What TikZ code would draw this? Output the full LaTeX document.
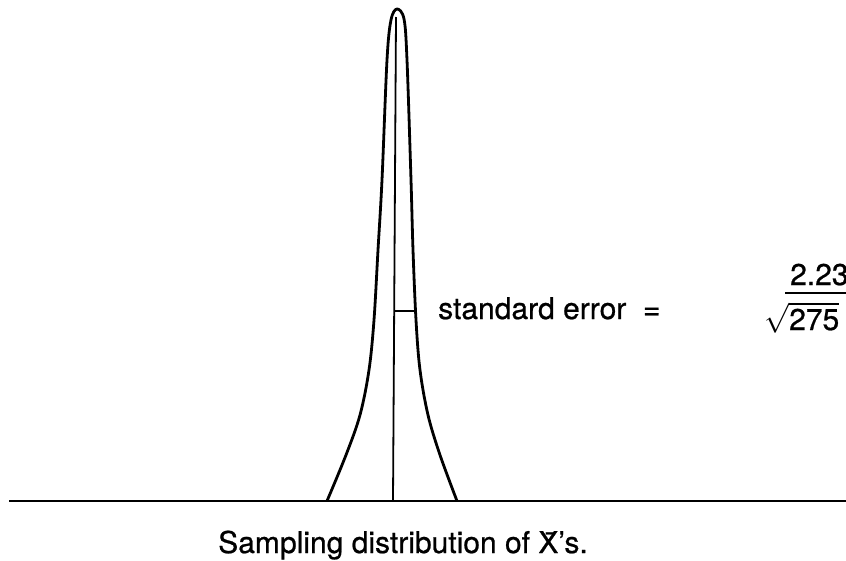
\RequirePackage{fix-cm}
\documentclass[tikz,border=0pt]{standalone}
\usepackage{amsmath}
\usepackage{fontspec}
\setmainfont{TeX Gyre Heros}[FakeBold=0.7]
\usetikzlibrary{positioning,calc}
\tikzset{
  diagram curve/.style={line width=2.8pt,draw=black,line join=round},
  diagram axis/.style={line width=2.6pt,draw=black},
  diagram mean/.style={line width=1.8pt,draw=black},
  diagram tick/.style={line width=1.6pt,draw=black},
  diagram label/.style={inner sep=0pt,font=\fontsize{30}{36}\selectfont,text=black}
}

\begin{document}
\begin{tikzpicture}[x=1pt,y=-1pt]
  \useasboundingbox (0,0) rectangle (846,560);
  % base line and mean
  \coordinate (axisL) at (9,501);
  \coordinate (axisR) at (846,501);
  \coordinate (mean) at (393,501);
  \coordinate (meantop) at (396,17);
  \draw[diagram axis] (axisL) -- (axisR);
  \draw[diagram mean] (mean) -- (meantop);
  % sampling distribution
  \draw[diagram curve] plot[smooth,tension=.55] coordinates {
    (327,501) (346,455) (360,415) (369,370) (374,320) (378,250) (382,180)
    (387,60) (391,20) (397,9) (404,19) (407,60) (411,180) (413,250)
    (416,320) (420,370) (428,415) (440,455) (457,501)};
  % standard error mark
  \coordinate (seL) at (395,311);
  \coordinate (seR) at (414,311);
  \draw[diagram tick] (seL) -- (seR);
  \node[diagram label,anchor=base west] (se) at (438,319) {standard error \ =};
  % the fraction, cut at the right edge
  \node[diagram label,anchor=base west] (num) at (790,285) {2.23};
  \node[diagram label,anchor=base west] (den) at (764,330) {$\sqrt{\text{275}}$};
  \draw[diagram tick] ($(num.base west)+(-5,8)$) -- ++(70,0);
  \node[diagram label,anchor=base] (cap) at (403,553)
    {Sampling distribution of \=X's.};
\end{tikzpicture}
\end{document}
